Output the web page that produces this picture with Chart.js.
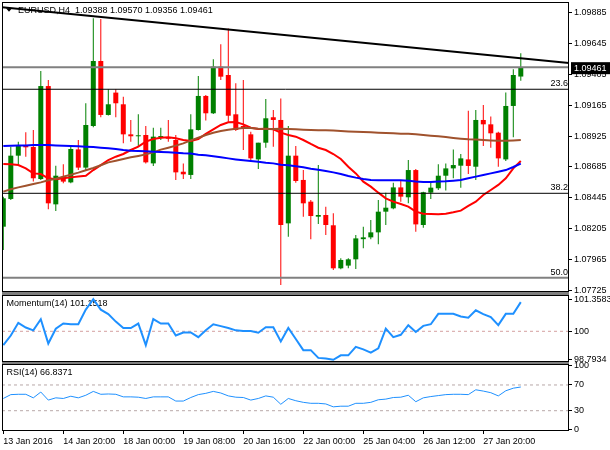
<!DOCTYPE html>
<html>
<head>
<meta charset="utf-8">
<script src="https://cdn.jsdelivr.net/npm/chart.js@4.4.1/dist/chart.umd.min.js"></script>
<style>
  body { margin: 0; background: #fff; }
  #wrap { position: relative; width: 610px; height: 450px; overflow: hidden; }
  canvas { position: absolute; left: 0; }
  .sep { position: absolute; left: 2px; width: 567px; background: #7f7f7f; }
</style>
</head>
<body>
<div id="wrap">
  <canvas id="priceChart" width="610" height="300" style="top:0"></canvas>
  <canvas id="momChart" width="610" height="80" style="top:290px"></canvas>
  <canvas id="rsiChart" width="610" height="90" style="top:360px"></canvas>
  <div class="sep" style="top:292px;height:3px"></div>
  <div class="sep" style="top:362px;height:2px"></div>
</div>
<script>
// EURUSD H4, 70 bars from 13 Jan 2016 12:00
const opens = [1.08219,1.08435,1.08772,1.08850,1.08840,1.08590,1.09314,1.08393,1.08609,1.08564,
  1.08821,1.08679,1.09003,1.09509,1.09089,1.09263,1.09172,1.08938,1.08923,1.08933,
  1.08712,1.08917,1.08915,1.08894,1.08647,1.08622,1.08972,1.09237,1.09102,1.09465,
  1.09400,1.09094,1.09003,1.08938,1.08743,1.08873,1.09071,1.09050,1.08245,1.08772,
  1.08583,1.08414,1.08297,1.08310,1.08230,1.07895,1.07916,1.07965,1.08122,1.08136,
  1.08175,1.08336,1.08362,1.08525,1.08448,1.08660,1.08232,1.08484,1.08518,1.08616,
  1.08673,1.08694,1.08743,1.08686,1.09050,1.09016,1.08951,1.08743,1.09159,1.09388];
const highs = [1.08453,1.08842,1.08881,1.08954,1.08972,1.09431,1.09361,1.08694,1.08705,1.08842,
  1.08894,1.09180,1.09841,1.09836,1.09289,1.09289,1.09231,1.09050,1.09094,1.09003,
  1.08990,1.08990,1.09050,1.08933,1.08712,1.09094,1.09392,1.09244,1.09522,1.09639,
  1.09763,1.09335,1.09361,1.08959,1.08873,1.09213,1.09128,1.09218,1.09003,1.08847,
  1.08660,1.08427,1.08699,1.08375,1.08323,1.07973,1.07973,1.08154,1.08219,1.08271,
  1.08427,1.08484,1.08562,1.08583,1.08738,1.08668,1.08492,1.08570,1.08705,1.08712,
  1.08821,1.08785,1.09122,1.09128,1.09167,1.09076,1.08959,1.09263,1.09444,1.09570];
const lows = [1.08038,1.08427,1.08694,1.08764,1.08570,1.08583,1.08354,1.08341,1.08557,1.08557,
  1.08660,1.08660,1.08993,1.09071,1.09085,1.09071,1.08868,1.08881,1.08842,1.08712,
  1.08692,1.08894,1.08881,1.08583,1.08590,1.08590,1.08967,1.09045,1.09096,1.09361,
  1.09037,1.08964,1.08816,1.08738,1.08668,1.08834,1.08842,1.07765,1.08141,1.08562,
  1.08297,1.08121,1.08240,1.08154,1.07882,1.07887,1.07895,1.07890,1.08051,1.08121,
  1.08082,1.08232,1.08354,1.08414,1.08401,1.08180,1.08211,1.08435,1.08505,1.08500,
  1.08596,1.08523,1.08629,1.08583,1.08847,1.08834,1.08686,1.08730,1.08915,1.09356];
const closes = [1.08440,1.08772,1.08850,1.08837,1.08596,1.09314,1.08401,1.08616,1.08570,1.08824,
  1.08679,1.09011,1.09509,1.09089,1.09172,1.09180,1.08938,1.08923,1.08930,1.08720,
  1.08920,1.08923,1.08904,1.08642,1.08627,1.08977,1.09237,1.09102,1.09465,1.09387,
  1.09083,1.08972,1.08985,1.08751,1.08873,1.09063,1.09050,1.08232,1.08772,1.08575,
  1.08401,1.08302,1.08310,1.08232,1.07895,1.07960,1.07965,1.08128,1.08136,1.08175,
  1.08336,1.08367,1.08525,1.08453,1.08660,1.08237,1.08487,1.08523,1.08616,1.08673,
  1.08699,1.08751,1.08692,1.09050,1.09016,1.08946,1.08751,1.09159,1.09400,1.09461];

// moving averages
const maRed = [1.08707,1.08705,1.08699,1.08673,1.08634,1.08629,1.08596,1.08588,1.08596,1.08603,
  1.08609,1.08616,1.08660,1.08699,1.08738,1.08764,1.08785,1.08816,1.08842,1.08881,
  1.08902,1.08912,1.08915,1.08907,1.08894,1.08886,1.08902,1.08941,1.08977,1.09011,
  1.09032,1.09034,1.09016,1.08990,1.08980,1.08982,1.08977,1.08951,1.08933,1.08920,
  1.08894,1.08863,1.08834,1.08816,1.08785,1.08746,1.08686,1.08634,1.08570,1.08531,
  1.08484,1.08440,1.08414,1.08396,1.08375,1.08336,1.08320,1.08318,1.08315,1.08320,
  1.08331,1.08344,1.08381,1.08414,1.08466,1.08505,1.08544,1.08596,1.08673,1.08730];
const maBrown = [1.08492,1.08510,1.08525,1.08538,1.08551,1.08564,1.08580,1.08593,1.08609,1.08624,
  1.08640,1.08658,1.08676,1.08697,1.08720,1.08733,1.08746,1.08759,1.08770,1.08782,
  1.08798,1.08819,1.08834,1.08850,1.08868,1.08891,1.08912,1.08933,1.08951,1.08964,
  1.08974,1.08982,1.08988,1.08988,1.08982,1.08980,1.08980,1.08982,1.08980,1.08977,
  1.08974,1.08972,1.08969,1.08969,1.08967,1.08964,1.08961,1.08959,1.08956,1.08954,
  1.08951,1.08948,1.08946,1.08943,1.08943,1.08938,1.08933,1.08928,1.08923,1.08917,
  1.08910,1.08904,1.08899,1.08897,1.08894,1.08891,1.08889,1.08889,1.08891,1.08894];
const maBlue = [1.08847,1.08850,1.08852,1.08852,1.08855,1.08855,1.08855,1.08852,1.08850,1.08847,
  1.08845,1.08842,1.08840,1.08834,1.08829,1.08824,1.08816,1.08811,1.08808,1.08806,
  1.08803,1.08801,1.08798,1.08795,1.08790,1.08788,1.08780,1.08775,1.08767,1.08759,
  1.08751,1.08743,1.08736,1.08730,1.08725,1.08717,1.08712,1.08702,1.08697,1.08689,
  1.08681,1.08671,1.08663,1.08653,1.08642,1.08629,1.08614,1.08601,1.08590,1.08583,
  1.08580,1.08580,1.08580,1.08580,1.08577,1.08570,1.08567,1.08567,1.08570,1.08572,
  1.08577,1.08583,1.08596,1.08609,1.08622,1.08634,1.08647,1.08660,1.08684,1.08710];

const momentum = [99.41,99.82,100.36,100.16,100.04,100.51,99.48,100.11,100.33,100.30,
  100.30,100.92,101.36,100.92,100.73,100.41,100.14,100.14,100.33,99.41,
  100.52,100.33,100.33,99.82,99.95,99.95,99.75,100.04,100.30,100.22,
  100.14,100.04,100.01,100.01,99.94,100.17,100.17,99.57,100.14,99.67,
  99.20,99.20,98.87,98.84,98.79,98.98,98.98,99.34,99.23,99.09,
  99.28,100.11,99.75,99.85,100.26,99.97,100.23,100.30,100.74,100.74,
  100.74,100.63,100.58,100.89,100.73,100.60,100.26,100.74,100.74,101.24];
const rsi = [49,55,55.5,55.5,50,59,46.5,50,49,52.5,
  50,54,60,55.5,56,55.5,51.5,51.5,51,49,
  51.5,51.5,51.5,45,45,50.5,55,57,60,57.5,
  53,51,50.5,46.5,49,53,51,40,49,45.5,
  43,41.5,41.5,40.5,36,37,37,41.5,41.5,43,
  47,48,50.5,51,54,44,50,52,53.5,55,
  55.5,55.5,55,62.5,60.5,58,53,61,65,66.84];

const trendBars = [-0.17, 75.43];
const trendPrices = [1.09928, 1.09493];
const fibLevels = [1.09289, 1.08479, 1.07822];
const fibNames = ['23.6', '38.2', '50.0'];

const priceTicks = [1.07725,1.07965,1.08205,1.08445,1.08685,1.08925,1.09165,1.09405,1.09645,1.09885];
const momTicks = [101.3583, 100, 98.7934];
const momTickLabels = ['101.3583', '100', '98.7934'];
const rsiTicks = [100, 70, 30, 0];
const rsiTickLabels = ['100', '70', '30', '0'];
const rsiLevels = [70, 30];
const dateBars = [0, 8, 16, 24, 32, 40, 48, 56, 64];
const dateLabels = ['13 Jan 2016','14 Jan 20:00','18 Jan 00:00','19 Jan 08:00','20 Jan 16:00',
  '22 Jan 00:00','25 Jan 04:00','26 Jan 12:00','27 Jan 20:00'];

const X_MIN = -0.173, X_MAX = 75.427;
const FONT = '9px "Liberation Sans", Arial, sans-serif';

Chart.defaults.font.family = '"Liberation Sans", Arial, sans-serif';
Chart.defaults.font.size = 9;
Chart.defaults.color = '#000';

const toPoints = arr => arr.map((v, i) => ({ x: i, y: v }));
const flatLine = lv => [{ x: X_MIN, y: lv }, { x: X_MAX, y: lv }];
const candleColors = closes.map((c, i) => c >= opens[i] ? '#008000' : '#ff0000');
const lastClose = closes[closes.length - 1];

const hiddenX = { type: 'linear', min: X_MIN, max: X_MAX, offset: false, display: false };

function rightAxis(min, max, values, labels) {
  return {
    position: 'right', min: min, max: max, beginAtZero: false,
    afterBuildTicks: s => { s.ticks = values.map(v => ({ value: v })); },
    afterFit: s => { s.width = 41; s.paddingTop = 0; s.paddingBottom = 0; },
    ticks: { autoSkip: false, padding: 2, callback: (v, i) => labels[i] },
    grid: { drawOnChartArea: false, tickLength: 3, color: '#000' },
    border: { display: false }
  };
}

const panelFrame = {
  id: 'panelFrame',
  afterDraw(chart) {
    const { ctx, chartArea: a } = chart;
    ctx.save();
    ctx.strokeStyle = '#000';
    ctx.lineWidth = 1;
    ctx.strokeRect(a.left + 0.5, a.top + 0.5, a.right - a.left - 1, a.bottom - a.top - 1);
    ctx.restore();
  }
};

const caption = {
  id: 'caption',
  beforeDatasetsDraw(chart, args, opts) {
    const { ctx, chartArea: a } = chart;
    ctx.save();
    ctx.font = FONT;
    ctx.fillStyle = '#000';
    ctx.textBaseline = 'middle';
    let x = a.left + 4.5;
    if (opts.arrow) {
      ctx.beginPath();
      ctx.moveTo(a.left + 4, a.top + 6.3);
      ctx.lineTo(a.left + 10, a.top + 6.3);
      ctx.lineTo(a.left + 7, a.top + 9.8);
      ctx.closePath();
      ctx.fill();
      x = a.left + 16;
    }
    ctx.fillText(opts.text, x, a.top + 8.5);
    ctx.restore();
  }
};

const priceMarks = {
  id: 'priceMarks',
  afterDatasetsDraw(chart) {
    const { ctx, chartArea: a, scales: { y } } = chart;
    ctx.save();
    ctx.font = FONT;
    ctx.fillStyle = '#000';
    ctx.textAlign = 'right';
    ctx.textBaseline = 'bottom';
    fibLevels.forEach((lv, k) => ctx.fillText(fibNames[k], a.right - 1, y.getPixelForValue(lv) - 1));
    ctx.restore();
  },
  afterDraw(chart) {
    const { ctx, chartArea: a, scales: { y } } = chart;
    const py = y.getPixelForValue(lastClose);
    ctx.save();
    ctx.fillStyle = '#000';
    ctx.fillRect(a.right + 2, py - 5, 40, 12);
    ctx.fillStyle = '#fff';
    ctx.font = FONT;
    ctx.textBaseline = 'middle';
    ctx.fillText(lastClose.toFixed(5), a.right + 5, py + 1);
    ctx.restore();
  }
};

const priceChart = new Chart(document.getElementById('priceChart'), {
  type: 'bar',
  data: {
    datasets: [
      { type: 'line', data: trendBars.map((b, k) => ({ x: b, y: trendPrices[k] })),
        borderColor: '#000', borderWidth: 2, pointRadius: 0, order: 0 },
      { type: 'line', data: flatLine(lastClose), borderColor: '#808080', borderWidth: 2, pointRadius: 0, order: 0 },
      ...fibLevels.map((lv, k) => ({ type: 'line', data: flatLine(lv),
        borderColor: k === 2 ? '#808080' : '#000', borderWidth: k === 2 ? 2 : 1, pointRadius: 0, order: 0 })),
      { type: 'line', data: toPoints(maBlue), borderColor: '#0000ff', borderWidth: 2, pointRadius: 0, order: 1 },
      { type: 'line', data: toPoints(maBrown), borderColor: '#a0522d', borderWidth: 2, pointRadius: 0, order: 1 },
      { type: 'line', data: toPoints(maRed), borderColor: '#ff0000', borderWidth: 2, pointRadius: 0, order: 1 },
      { data: opens.map((o, i) => ({ x: i, y: [o, closes[i]] })), backgroundColor: candleColors,
        barThickness: 5, minBarLength: 1, grouped: false, inflateAmount: 0, borderWidth: 0, order: 2 },
      { data: lows.map((l, i) => ({ x: i, y: [l, highs[i]] })), backgroundColor: candleColors,
        barThickness: 1, grouped: false, inflateAmount: 0, borderWidth: 0, order: 3 }
    ]
  },
  options: {
    responsive: false, animation: false, events: [],
    layout: { padding: { left: 2, top: 2, right: 0, bottom: 8 } },
    plugins: {
      legend: { display: false }, tooltip: { enabled: false },
      caption: { text: 'EURUSD,H4  1.09388 1.09570 1.09356 1.09461', arrow: true }
    },
    scales: {
      x: hiddenX,
      y: Object.assign(rightAxis(1.077106, 1.099684, priceTicks, priceTicks.map(v => v.toFixed(5))))
    }
  },
  plugins: [caption, priceMarks, panelFrame]
});

const momChart = new Chart(document.getElementById('momChart'), {
  type: 'line',
  data: {
    datasets: [
      { data: toPoints(momentum), borderColor: '#1e90ff', borderWidth: 2, pointRadius: 0, order: 0 },
      { data: flatLine(100), borderColor: '#d4a0a0', borderWidth: 1, borderDash: [3, 3], pointRadius: 0, order: 1 }
    ]
  },
  options: {
    responsive: false, animation: false, events: [],
    layout: { padding: { left: 2, top: 5, right: 0, bottom: 8 } },
    plugins: {
      legend: { display: false }, tooltip: { enabled: false },
      caption: { text: 'Momentum(14) 101.1518' }
    },
    scales: { x: hiddenX, y: rightAxis(98.696, 101.541, momTicks, momTickLabels) }
  },
  plugins: [caption, panelFrame]
});

const rsiChart = new Chart(document.getElementById('rsiChart'), {
  type: 'line',
  data: {
    datasets: [
      { data: toPoints(rsi), borderColor: '#1e90ff', borderWidth: 1, pointRadius: 0, order: 0 },
      ...rsiLevels.map(lv => ({ data: flatLine(lv), borderColor: '#b8a8a8', borderWidth: 1,
        borderDash: [3, 3], pointRadius: 0, order: 1 }))
    ]
  },
  options: {
    responsive: false, animation: false, events: [],
    layout: { padding: { left: 2, top: 4, right: 0, bottom: 0 } },
    plugins: {
      legend: { display: false }, tooltip: { enabled: false },
      caption: { text: 'RSI(14) 66.8371' }
    },
    scales: {
      x: {
        type: 'linear', min: X_MIN, max: X_MAX, offset: false, position: 'bottom',
        afterBuildTicks: s => { s.ticks = dateBars.map(v => ({ value: v })); },
        afterFit: s => { s.height = 19; s.paddingLeft = 0; s.paddingRight = 0; },
        ticks: { autoSkip: false, maxRotation: 0, align: 'start', padding: 2, callback: (v, i) => dateLabels[i] },
        grid: { drawOnChartArea: false, tickLength: 3, color: '#000', offset: false },
        border: { display: false }
      },
      y: rightAxis(-1.56, 102.6, rsiTicks, rsiTickLabels)
    }
  },
  plugins: [caption, panelFrame]
});
</script>
</body>
</html>
